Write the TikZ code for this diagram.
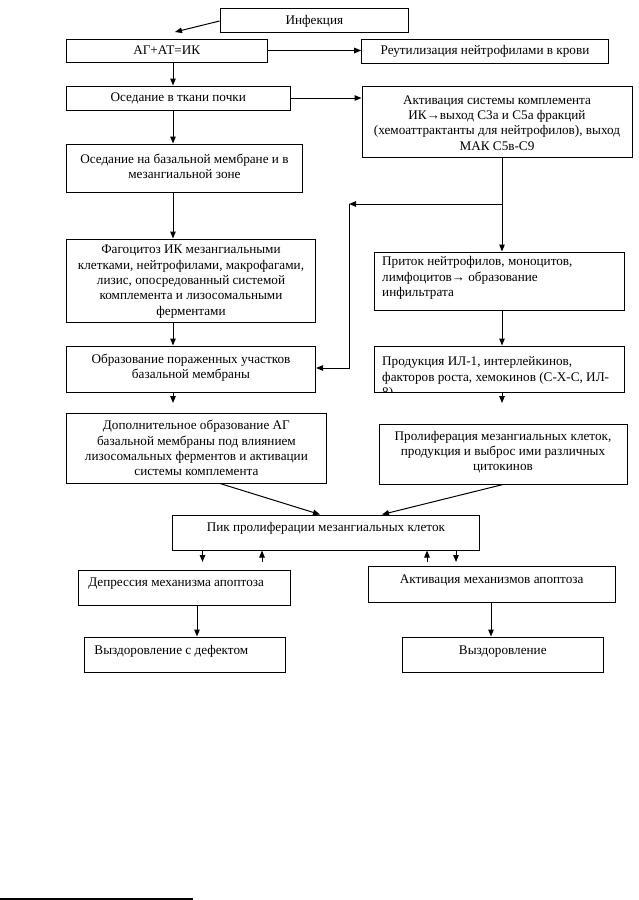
\documentclass[tikz,border=0pt]{standalone}
\usepackage{fontspec}
\setmainfont{Liberation Serif}
\usetikzlibrary{arrows.meta,calc}
\begin{document}
\begin{tikzpicture}[x=1pt,y=-1pt,
  box/.style={draw=black, line width=1pt, inner sep=0pt, rectangle},
  txt/.style={inner sep=0pt, font=\fontsize{13.2}{15.3}\selectfont, align=center},
  ltxt/.style={inner sep=0pt, font=\fontsize{13.2}{15.3}\selectfont, align=left, anchor=west},
  arr/.style={line width=1pt, -{Triangle[length=7pt,width=5.5pt]}}]
\useasboundingbox (0,0) rectangle (639,900);
% boxes
\node[box, minimum width=188.7, minimum height=24] (inf) at (314.35,20) {};
\node[box, minimum width=200.6, minimum height=23] (ag) at (166.7,50.5) {};
\node[box, minimum width=246.6, minimum height=24] (reut) at (485,51) {};
\node[box, minimum width=223.6, minimum height=24] (os1) at (178.2,98) {};
\node[box, minimum width=270, minimum height=71] (akt) at (497,121.5) {};
\node[box, minimum width=236, minimum height=48] (os2) at (184.4,168) {};
\node[box, minimum width=249.2, minimum height=83] (fag) at (191,280.5) {};
\node[box, minimum width=250, minimum height=58] (prit) at (499.5,281) {};
\node[box, minimum width=249.2, minimum height=46] (obr) at (191,369) {};
\node[box, minimum width=250, minimum height=46] (prod) at (499.5,369) {};
\node[box, minimum width=260, minimum height=70] (dop) at (196.4,448) {};
\node[box, minimum width=248, minimum height=60] (prol) at (503,454) {};
\node[box, minimum width=306.3, minimum height=35] (pik) at (325.9,532.5) {};
\node[box, minimum width=212, minimum height=35] (dep) at (184.6,587.5) {};
\node[box, minimum width=247.2, minimum height=36] (aktap) at (491.6,584) {};
\node[box, minimum width=200.5, minimum height=35] (vy1) at (185,654.5) {};
\node[box, minimum width=200.4, minimum height=35] (vy2) at (502.8,654.5) {};
% texts
\node[txt] (t-inf) at ([yshift=-1pt]inf.center) {Инфекция};
\node[txt] (t-ag) at (ag.center) {АГ+АТ=ИК};
\node[txt] (t-reut) at (reut.center) {Реутилизация нейтрофилами в крови};
\node[txt] (t-os1) at (os1.center) {Оседание в ткани почки};
\node[txt] (t-akt) at ([yshift=-1.5pt]akt.center) {Активация системы комплемента\\ИК→выход С3а и С5а фракций\\(хемоаттрактанты для нейтрофилов), выход\\МАК С5в-С9};
\node[txt] (t-os2) at ([yshift=2pt]os2.center) {Оседание на базальной мембране и в\\мезангиальной зоне};
\node[txt] (t-fag) at ([yshift=-1pt]fag.center) {Фагоцитоз ИК мезангиальными\\клетками, нейтрофилами, макрофагами,\\лизис, опосредованный системой\\комплемента и лизосомальными\\ферментами};
\node[ltxt] (t-prit) at ([xshift=8pt,yshift=3pt]prit.west) {Приток нейтрофилов, моноцитов,\\лимфоцитов→ образование\\инфильтрата};
\node[txt] (t-obr) at ([yshift=1pt]obr.center) {Образование пораженных участков\\базальной мембраны};
\begin{scope}
\clip (prod.south west) rectangle (prod.north east);
\node[ltxt, anchor=north west] (t-prod) at ([xshift=8pt,yshift=-11pt]prod.north west) {Продукция ИЛ-1, интерлейкинов,\\факторов роста, хемокинов (С-Х-С, ИЛ-\\8)};
\end{scope}
\node[txt] (t-dop) at (dop.center) {Дополнительное образование АГ\\базальной мембраны под влиянием\\лизосомальных ферментов и активации\\системы комплемента};
\node[txt] (t-prol) at ([yshift=2pt]prol.center) {Пролиферация мезангиальных клеток,\\продукция и выброс ими различных\\цитокинов};
\node[txt] (t-pik) at ([yshift=4pt]pik.center) {Пик пролиферации мезангиальных клеток};
\node[ltxt] (t-dep) at ([xshift=10pt,yshift=4pt]dep.west) {Депрессия механизма апоптоза};
\node[txt] (t-aktap) at ([yshift=4pt]aktap.center) {Активация механизмов апоптоза};
\node[ltxt] (t-vy1) at ([xshift=10pt,yshift=3pt]vy1.west) {Выздоровление с дефектом};
\node[txt] (t-vy2) at ([yshift=3pt]vy2.center) {Выздоровление};
% helper coordinates
\coordinate (L) at (173,0);
\coordinate (R) at (502,0);
\coordinate (c1) at (175,32);
\coordinate (c2) at (173,403);
\coordinate (c3) at (502,403);
\coordinate (br) at (349,204);
\coordinate (bk) at (349,368);
% connectors
\draw[arr] ([yshift=-1pt]inf.west) -- (c1);
\draw[arr] (ag.east) -- (ag.east -| reut.west);
\draw[arr] (ag.south -| L) -- (os1.north -| L);
\draw[arr] (os1.east) -- (os1.east -| akt.west);
\draw[arr] (os1.south -| L) -- (os2.north -| L);
\draw[arr] (os2.south -| L) -- (fag.north -| L);
\draw[arr] (fag.south -| L) -- (obr.north -| L);
\draw[arr] (obr.south -| L) -- (c2);
\draw[arr] (akt.south -| R) -- (prit.north -| R);
\draw[arr] (br -| R) -- (br);
\draw[arr] (br) -- (bk) -- (bk -| obr.east);
\draw[arr] (prit.south -| R) -- (prod.north -| R);
\draw[arr] (prod.south -| R) -- (c3);
\draw[arr] ([xshift=23.6pt]dop.south) -- ([xshift=-5.9pt]pik.north);
\draw[arr] (prol.south) -- ([xshift=56.1pt]pik.north);
\draw[arr] (pik.south -| 202.5,0) -- (202.5,562);
\draw[arr] (262,562) -- (pik.south -| 262,0);
\draw[arr] (427,562) -- (pik.south -| 427,0);
\draw[arr] (pik.south -| 456,0) -- (456,562);
\draw[arr] (dep.south -| 197,0) -- (vy1.north -| 197,0);
\draw[arr] (aktap.south -| 491,0) -- (vy2.north -| 491,0);
% footnote rule
\draw[line width=1.2pt] (0,899) -- (193,899);
\end{tikzpicture}
\end{document}
